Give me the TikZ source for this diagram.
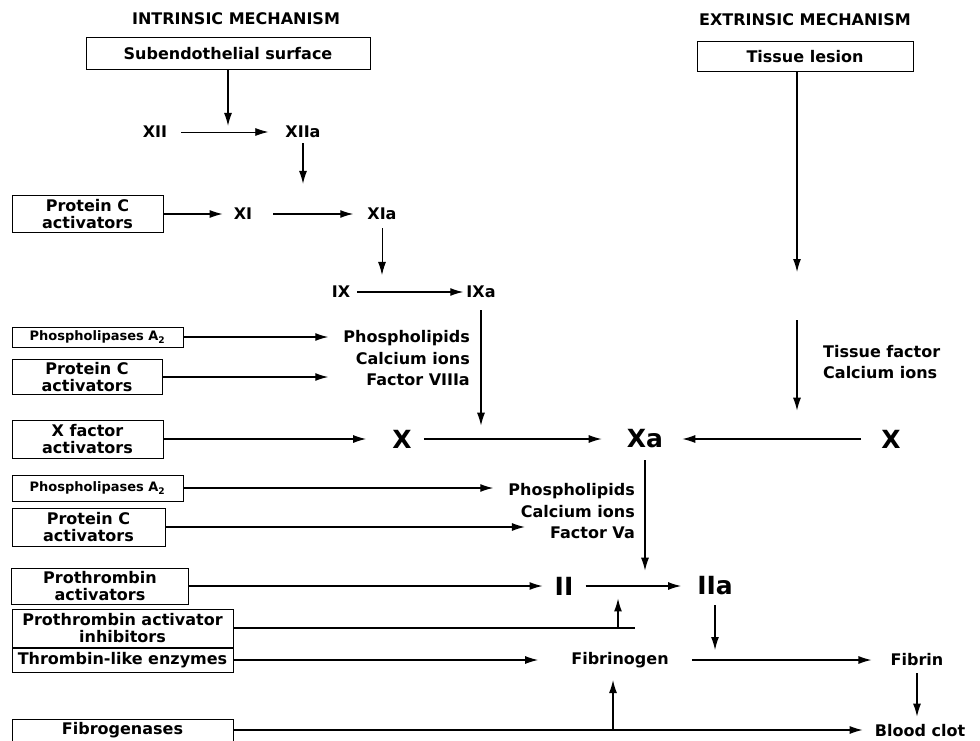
\documentclass[tikz,border=0pt]{standalone}
\usepackage{fontspec}
\setmainfont{DejaVu Sans}
\usetikzlibrary{arrows.meta}

\tikzset{
  lbl/.style={font=\bfseries\fontsize{16}{17}\selectfont, inner sep=0pt},
  small/.style={font=\bfseries\fontsize{13}{14}\selectfont},
  head/.style={font=\bfseries\fontsize{16}{17}\selectfont, inner sep=0pt},
  big/.style={font=\bfseries\fontsize{25}{27}\selectfont, inner sep=0pt},
  box/.style 2 args={lbl, draw, line width=1pt, align=center,
    minimum width=#1, minimum height=#2},
  flow/.style={line width=1.2pt, -{Latex[length=13pt,width=8pt]}},
  link/.style={line width=1.2pt},
}

\begin{document}
\begin{tikzpicture}[x=1pt, y=-1pt]
  \useasboundingbox (0,0) rectangle (980,741);
  % headings
  \node[head] (hin) at (236,19) {INTRINSIC MECHANISM};
  \node[head] (hex) at (805,20) {EXTRINSIC MECHANISM};

  % boxes
  \node[box={284}{32}] (sub) at (228,54) {Subendothelial surface};
  \node[box={216}{30}] (les) at (805,57) {Tissue lesion};
  \node[box={151}{37}] (pca1) at (87.5,214) {Protein C\\activators};
  \node[box={171}{20}, small] (pla1) at (97.5,337) {Phospholipases A\textsubscript{2}};
  \node[box={150}{35}] (pca2) at (87,377) {Protein C\\activators};
  \node[box={151}{38}] (xfa) at (87.5,439) {X factor\\activators};
  \node[box={171}{26}, small] (pla2) at (97.5,488) {Phospholipases A\textsubscript{2}};
  \node[box={153}{38}] (pca3) at (88.5,527) {Protein C\\activators};
  \node[box={177}{36}] (pta) at (100,586) {Prothrombin\\activators};
  \node[box={221}{38}] (pai) at (122.5,628) {Prothrombin activator\\inhibitors};
  \node[box={221}{24}] (tle) at (122.5,660) {Thrombin-like enzymes};
  \node[box={221}{22}] (fgs) at (122.5,730) {Fibrogenases};

  % factors
  \node[lbl] (XII) at (155,132) {XII};
  \node[lbl] (XIIa) at (303,132) {XIIa};
  \node[lbl] (XI) at (243,214) {XI};
  \node[lbl] (XIa) at (382,214) {XIa};
  \node[lbl] (IX) at (341,292) {IX};
  \node[lbl] (IXa) at (481,292) {IXa};
  \node[big] (X) at (402,439) {X};
  \node[big] (Xa) at (645,439) {Xa};
  \node[big] (Xe) at (891,439) {X};
  \node[big] (II) at (564,586) {II};
  \node[big] (IIa) at (715,586) {IIa};
  \node[lbl] (fbg) at (620,660) {Fibrinogen};
  \node[lbl] (fbn) at (917,660) {Fibrin};
  \node[lbl] (clot) at (920,731) {Blood clot};

  \foreach \txt [count=\i] in {Phospholipids, Calcium ions, Factor VIIIa}
    \node[lbl, anchor=east] (c\i) at (470,317+21*\i) {\txt};
  \foreach \txt [count=\i] in {Phospholipids, Calcium ions, Factor Va}
    \node[lbl, anchor=east] (d\i) at (635,470+21*\i) {\txt};
  \foreach \txt [count=\i] in {Tissue factor, Calcium ions}
    \node[lbl, anchor=west] (t\i) at (823,331+21*\i) {\txt};

  \coordinate (tf1) at (797,272);
  \coordinate (tf2) at (797,320);
  \coordinate (pin) at (618,628);
  \coordinate (pend) at (635,628);
  \coordinate (fgb) at (613,730);

  % intrinsic cascade
  \draw[flow] (sub) -- (sub |- XII.north);
  \draw[flow, line width=.8pt, shorten <=14pt, shorten >=17pt] (XII) -- (XIIa);
  \draw[flow, shorten <=5pt, shorten >=24pt] (XIIa) -- (XIIa |- XI.north);
  \draw[flow, shorten >=11pt] (pca1) -- (XI);
  \draw[flow, shorten <=21pt, shorten >=14pt] (XI) -- (XIa);
  \draw[flow, line width=.9pt, shorten <=8pt, shorten >=11pt] (XIa) -- (XIa |- IX.north);
  \draw[flow, shorten <=7pt, shorten >=3pt] (IX) -- (IXa);
  \draw[flow, shorten <=12pt, shorten >=4pt] (IXa) -- (IXa |- X.north);
  \draw[flow, shorten >=15pt] (pla1) -- (pla1 -| c1.west);
  \draw[flow, shorten >=15pt] (pca2) -- (pca2 -| c1.west);
  \draw[flow, shorten >=26pt] (xfa) -- (X);
  \draw[flow, shorten <=12pt, shorten >=25pt] (X) -- (Xa);

  % extrinsic side
  \draw[flow] (les.south -| tf1) -- (tf1);
  \draw[flow, shorten >=19pt] (tf2) -- (tf2 |- Xe.north);
  \draw[flow, shorten <=20pt, shorten >=19pt] (Xe) -- (Xa);

  % common pathway
  \draw[flow, shorten >=15pt] (pla2) -- (pla2 -| d1.west);
  \draw[flow, shorten >=25pt] (pca3) -- (pca3 -| d3.west);
  \draw[flow, shorten <=12pt, shorten >=6pt] (Xa) -- (Xa |- II.north);
  \draw[flow, shorten >=12pt] (pta) -- (II);
  \draw[flow, shorten <=12pt, shorten >=16pt] (II) -- (IIa);
  \draw[link] (pai) -- (pend);
  \draw[flow, shorten >=3pt] (pin) -- (pin |- IIa.south);
  \draw[flow, shorten >=33pt] (tle) -- (fbg);
  \draw[flow, shorten <=10pt, shorten >=2pt] (IIa) -- (IIa |- fbg.north);
  \draw[flow, shorten <=23pt, shorten >=19pt] (fbg) -- (fbn);
  \draw[flow, shorten <=7pt, shorten >=8pt] (fbn) -- (fbn |- clot.north);
  \draw[flow, shorten >=12pt] (fgs) -- (fgs -| clot.west);
  \draw[flow, shorten >=12pt] (fgb) -- (fgb |- fbg.south);
\end{tikzpicture}
\end{document}
